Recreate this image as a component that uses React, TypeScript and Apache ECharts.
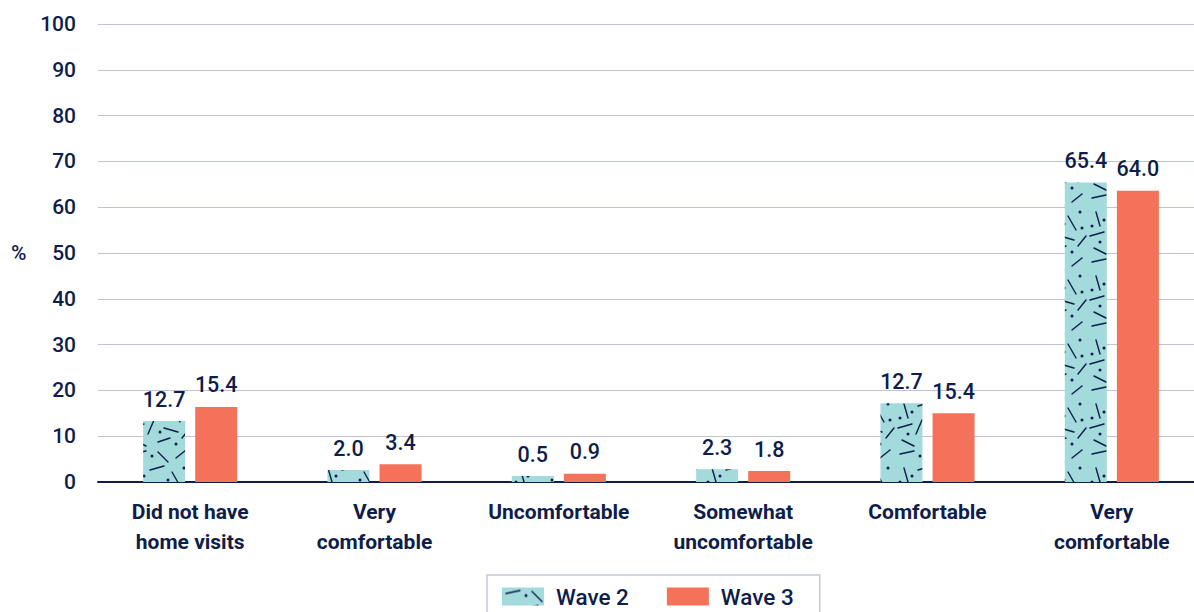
import React, { useEffect, useRef } from "react";
import * as echarts from "echarts";

const categories = [
  "Did not have\nhome visits",
  "Very\ncomfortable",
  "Uncomfortable",
  "Somewhat\nuncomfortable",
  "Comfortable",
  "Very\ncomfortable",
];
const wave2Values = [13.3, 2.6, 1.3, 2.8, 17.2, 65.4];
const wave3Values = [16.4, 3.9, 1.8, 2.4, 15.0, 63.6];
const wave2Labels = ["12.7", "2.0", "0.5", "2.3", "12.7", "65.4"];
const wave3Labels = ["15.4", "3.4", "0.9", "1.8", "15.4", "64.0"];
const yTicks = { min: 0, max: 100, interval: 10 };

const NAVY = "#0f1d4a";
const TEAL = "#a3dadb";
const CORAL = "#f4725a";

// texture strokes for the patterned bars: [x1, y1, x2, y2]
const strokes = [
  [4, 6, 18, 3], [30, 4, 40, 14], [48, 10, 58, 2], [8, 20, 12, 34],
  [22, 22, 36, 18], [44, 24, 52, 38], [2, 44, 16, 40], [26, 36, 20, 50],
  [36, 44, 50, 48], [54, 54, 62, 44], [6, 56, 18, 62], [30, 58, 42, 54],
];
const dots = [
  [24, 8], [56, 20], [16, 28], [40, 32], [4, 34], [58, 36], [32, 48], [12, 50], [48, 60],
];

function makePattern() {
  const c = document.createElement("canvas");
  c.width = 64;
  c.height = 64;
  const ctx = c.getContext("2d")!;
  ctx.fillStyle = TEAL;
  ctx.fillRect(0, 0, 64, 64);
  ctx.strokeStyle = NAVY;
  ctx.lineWidth = 1.4;
  ctx.lineCap = "round";
  strokes.forEach(([a, b, d, e]) => {
    ctx.beginPath();
    ctx.moveTo(a, b);
    ctx.lineTo(d, e);
    ctx.stroke();
  });
  ctx.fillStyle = NAVY;
  dots.forEach(([x, y]) => {
    ctx.beginPath();
    ctx.arc(x, y, 1.5, 0, Math.PI * 2);
    ctx.fill();
  });
  return c;
}

export default function App() {
  const ref = useRef<HTMLDivElement>(null);
  useEffect(() => {
    document.body.style.margin = "0";
    const chart = echarts.init(ref.current!, undefined, { renderer: "svg" });
    const pattern = makePattern();
    const font = "Roboto";
    const valueLabel = (labels: string[]) => ({
      show: true,
      position: "top",
      distance: 11,
      color: NAVY,
      fontSize: 21.5,
      fontWeight: 500,
      fontFamily: font,
      formatter: (p: any) => labels[p.dataIndex],
    });
    chart.setOption({
      animation: false,
      textStyle: { fontFamily: font, color: NAVY },
      grid: { left: 98, width: 1106, top: 24, bottom: 130, outerBoundsMode: "none", containLabel: false },
      xAxis: {
        type: "category",
        data: categories,
        axisLine: { lineStyle: { color: NAVY, width: 2 } },
        axisTick: { show: false },
        axisLabel: {
          interval: 0,
          color: NAVY,
          fontSize: 21,
          fontWeight: "bold",
          lineHeight: 30,
          margin: 15,
          fontFamily: font,
        },
      },
      yAxis: {
        type: "value",
        min: yTicks.min,
        max: yTicks.max,
        interval: yTicks.interval,
        axisLine: { show: false },
        axisTick: { show: false },
        splitLine: { lineStyle: { color: "#bfc3d8", width: 1 } },
        axisLabel: { color: NAVY, fontSize: 21, fontWeight: 500, margin: 22, fontFamily: font },
      },
      legend: {
        left: 487,
        top: 575,
        padding: [10, 26, 10, 15],
        borderColor: "#c4c8dc",
        borderWidth: 1.5,
        itemWidth: 42,
        itemHeight: 18,
        itemGap: 38,
        icon: "rect",
        textStyle: { color: NAVY, fontSize: 22.5, fontWeight: 500, fontFamily: font, padding: [0, 0, 0, 7] },
        data: ["Wave 2", "Wave 3"],
      },
      graphic: [
        {
          type: "text",
          left: 11,
          top: 242,
          style: { text: "%", fill: NAVY, fontSize: 21, fontWeight: 500, fontFamily: font },
        },
      ],
      series: [
        {
          name: "Wave 2",
          type: "bar",
          data: wave2Values,
          barWidth: 42,
          barGap: "24%",
          itemStyle: { color: { image: pattern, repeat: "repeat" } },
          label: valueLabel(wave2Labels),
        },
        {
          name: "Wave 3",
          type: "bar",
          data: wave3Values,
          barWidth: 42,
          itemStyle: { color: CORAL },
          label: valueLabel(wave3Labels),
        },
      ],
    });
    return () => chart.dispose();
  }, []);
  return <div ref={ref} style={{ width: 1194, height: 612 }} />;
}
